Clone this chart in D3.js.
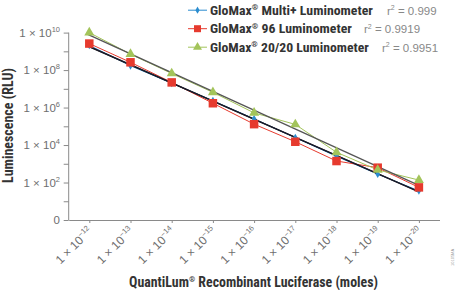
<!DOCTYPE html>
<html><head><meta charset="utf-8">
<script src="https://cdn.jsdelivr.net/npm/d3@7"></script>
<style>
body{margin:0;background:#fff;}
svg{display:block;}
.cond{font-family:"Liberation Sans Narrow","Roboto Condensed","DejaVu Sans Condensed",sans-serif;font-weight:bold;}
.reg{font-family:"Liberation Sans","Helvetica",Arial,sans-serif;}
</style></head>
<body>
<svg id="c" width="461" height="290"></svg>
<script>
const categories = [-12,-13,-14,-15,-16,-17,-18,-19,-20];
const multiPlus = [2.1e9,1.7e8,2.0e7,2.3e6,2.5e5,2.5e4,2.5e3,2.8e2,36];
const glomax96 = [2.6e9,2.6e8,2.2e7,1.7e6,1.3e5,1.5e4,1.4e3,6.2e2,55];
const glomax2020 = [1.0e10,7.1e8,6.6e7,6.5e6,5.2e5,1.26e5,4.1e3,4.7e2,1.35e2];
const seriesNames = ["GloMax® Multi+ Luminometer","GloMax® 96 Luminometer","GloMax® 20/20 Luminometer"];
const r2Labels = ["0.999","0.9919","0.9951"];
const yTickExp = [0,1,2,3,4,5,6,7,8,9,10];

const svg = d3.select("#c");
const x = d3.scaleLinear().domain([-0.5,8.5]).range([68.7,439.5]);
const y = d3.scaleLog().domain([1,1e10]).range([220,32.6]);

const series = [
  {name:seriesNames[0], vals:multiPlus, color:"#2a8ccf", fit:"#1a1a2a", shape:"diamond", r2:r2Labels[0], r2x:387, w:163},
  {name:seriesNames[1], vals:glomax96, color:"#e63a2e", fit:"#222", shape:"square", r2:r2Labels[1], r2x:364, w:142},
  {name:seriesNames[2], vals:glomax2020, color:"#a3c45a", fit:"#555", shape:"triangle", r2:r2Labels[2], r2x:382, w:159}
];

// place a text so that its width matches target
function fit(sel, tx, ty, target, rot){
  const w = sel.node().getComputedTextLength();
  const k = target / w;
  sel.attr("transform","translate("+tx+","+ty+")"+(rot?" rotate("+rot+")":"")+" scale("+k+",1)");
}

// axes
const axisColor = "#8a8a8a";
const yAxis = d3.axisLeft(y).tickValues(yTickExp.map(e=>Math.pow(10,e))).tickFormat("").tickSize(5).tickSizeOuter(0);
const gy = svg.append("g").attr("transform","translate(68.7,0)").call(yAxis);
gy.selectAll("path,line").attr("stroke",axisColor).attr("stroke-width",1);
gy.select(".domain").attr("d","M0,"+y(1e10)+"V220");

const xAxis = d3.axisBottom(x).tickValues(d3.range(categories.length)).tickFormat("").tickSize(3).tickSizeOuter(0);
const gx = svg.append("g").attr("transform","translate(0,220)").call(xAxis);
gx.selectAll("path,line").attr("stroke",axisColor).attr("stroke-width",1);

// y labels
const labColor = "#6e6e6e";
yTickExp.filter(e=>e%2===0).forEach(e=>{
  const t = svg.append("text").attr("class","reg").attr("x",60).attr("y",y(Math.pow(10,e))+4)
    .attr("text-anchor","end").attr("font-size",11.5).attr("fill",labColor);
  if(e===0){ t.text("0"); }
  else {
    t.append("tspan").text("1 × 10");
    t.append("tspan").attr("dy",-5).attr("font-size",7.5).text(e);
  }
});

// x labels
categories.forEach((c,i)=>{
  const t = svg.append("text").attr("class","reg")
    .attr("transform","translate("+(x(i)+4)+",232) rotate(-45)")
    .attr("text-anchor","end").attr("font-size",12).attr("fill",labColor);
  t.append("tspan").text("1 × 10");
  t.append("tspan").attr("dy",-5).attr("font-size",7.5).text("−"+(-c));
});

// fits
series.forEach(s=>{
  const xs = s.vals.map((v,i)=>i), ys = s.vals.map(v=>Math.log10(v));
  const mx = d3.mean(xs), my = d3.mean(ys);
  const b = d3.sum(xs.map((xi,i)=>(xi-mx)*(ys[i]-my)))/d3.sum(xs.map(xi=>(xi-mx)**2));
  const a = my - b*mx;
  s.fitLine = [[-0.05, Math.pow(10,a+b*(-0.05))],[8,Math.pow(10,a+b*8)]];
});

const line = d3.line().x((d,i)=>x(i)).y(d=>y(d));
series.forEach(s=>{
  svg.append("path").attr("d",line(s.vals)).attr("fill","none").attr("stroke",s.color).attr("stroke-width",1);
});
[2,1,0].forEach(k=>{
  const s = series[k];
  svg.append("line").attr("x1",x(s.fitLine[0][0])).attr("y1",y(s.fitLine[0][1]))
    .attr("x2",x(s.fitLine[1][0])).attr("y2",y(s.fitLine[1][1]))
    .attr("stroke",s.fit).attr("stroke-width",1.3);
});

function marker(g, shape, color, cx, cy, sz){
  if(shape==="square") g.append("rect").attr("x",cx-sz/2).attr("y",cy-sz/2).attr("width",sz).attr("height",sz).attr("fill",color);
  else if(shape==="triangle") g.append("path").attr("d",d3.symbol(d3.symbolTriangle, sz*sz*0.433)()).attr("transform","translate("+cx+","+cy+")").attr("fill",color);
  else g.append("path").attr("d",d3.symbol(d3.symbolDiamond, sz*sz*0.5)()).attr("transform","translate("+cx+","+cy+")").attr("fill",color);
}
const mg = svg.append("g");
series.forEach(s=>{
  const sz = s.shape==="square"?8.5:(s.shape==="triangle"?10:6);
  s.vals.forEach((v,i)=>marker(mg,s.shape,s.color,x(i),y(v),sz));
});

// legend
series.forEach((s,k)=>{
  const base = 14.5 + k*18.5;
  const cy = base - 4.3;
  svg.append("line").attr("x1",188).attr("x2",207).attr("y1",cy).attr("y2",cy).attr("stroke",s.color).attr("stroke-width",1);
  const sz = s.shape==="square"?7:(s.shape==="triangle"?9:5.5);
  marker(svg,s.shape,s.color,197.5,cy,sz);
  const t = svg.append("text").attr("class","cond").attr("font-size",12.5).attr("fill","#333");
  const parts = s.name.split("®");
  t.append("tspan").text(parts[0]);
  t.append("tspan").attr("dy",-4.5).attr("font-size",7.5).text("®");
  t.append("tspan").attr("dy",4.5).text(parts[1]);
  fit(t, 210, base, s.w);
  const r = svg.append("text").attr("class","reg").attr("x",s.r2x).attr("y",base).attr("font-size",11.5).attr("fill","#888");
  r.append("tspan").text("r");
  r.append("tspan").attr("dy",-4.5).attr("font-size",7).text("2");
  r.append("tspan").attr("dy",4.5).text(" = "+s.r2);
});

// axis titles
const yt = svg.append("text").attr("class","cond").attr("text-anchor","middle").attr("font-size",14).attr("fill","#333").text("Luminescence (RLU)");
fit(yt, 13, 125.5, 115, -90);
const xt = svg.append("text").attr("class","cond").attr("text-anchor","middle").attr("font-size",14).attr("fill","#333");
xt.append("tspan").text("QuantiLum");
xt.append("tspan").attr("dy",-4.5).attr("font-size",8).text("®");
xt.append("tspan").attr("dy",4.5).text(" Recombinant Luciferase (moles)");
fit(xt, 253.5, 286.5, 249);

svg.append("text").attr("class","reg").attr("transform","translate(454,266) rotate(-90)")
  .attr("font-size",4).attr("fill","#999").text("10105MA");
</script>
</body></html>
